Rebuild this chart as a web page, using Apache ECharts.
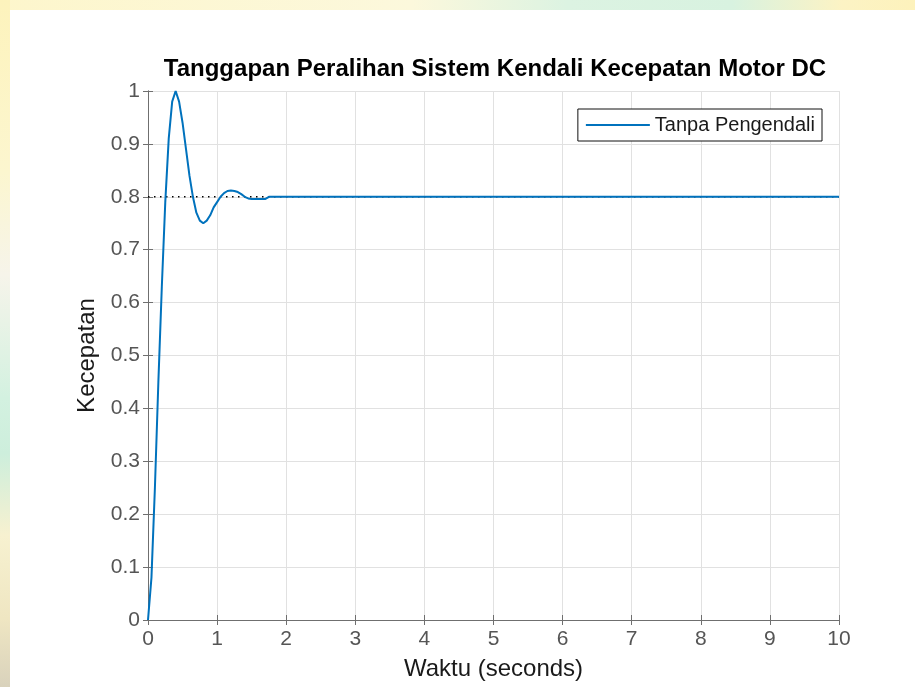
<!DOCTYPE html>
<html>
<head>
<meta charset="utf-8">
<script src="https://cdn.jsdelivr.net/npm/echarts@6/dist/echarts.min.js"></script>
<style>
  html, body { margin: 0; padding: 0; width: 915px; height: 687px; overflow: hidden; }
  body { background: #fdf7d2; position: relative; }
  #topStrip { position: absolute; left: 0; top: 0; width: 915px; height: 10px;
    background: linear-gradient(to right, #fdf6cc 0%, #fcf8dc 45%, #dcf3e2 62%, #d8f2e0 80%, #fcf3c4 92%, #fdf2bc 100%); }
  #leftStrip { position: absolute; left: 0; top: 0; width: 10px; height: 687px;
    background: linear-gradient(to bottom, #fdf3bc 0%, #fcf6cf 25%, #f6f4ea 40%, #d3f1e0 58%, #cdeedc 66%, #f7f1d0 78%, #efe6c2 90%, #d9d2bc 100%); }
  #panel { position: absolute; left: 10px; top: 10px; width: 905px; height: 677px; background: #ffffff; }
  #chart { position: absolute; left: 0; top: 0; width: 915px; height: 687px; }
</style>
</head>
<body>
<div id="topStrip"></div>
<div id="leftStrip"></div>
<div id="panel"></div>
<div id="chart"></div>
<script>
// Step response of the DC motor speed loop (no controller)
const timeSec = [0, 0.05, 0.1, 0.15, 0.2, 0.25, 0.3, 0.35, 0.4, 0.45, 0.5, 0.55, 0.6, 0.65,
  0.7, 0.75, 0.8, 0.85, 0.9, 0.95, 1.0, 1.05, 1.1, 1.15, 1.2, 1.25, 1.3, 1.35, 1.4,
  1.45, 1.5, 1.55, 1.6, 1.65, 1.7, 1.75, 10];
const speed = [0, 0.08, 0.25, 0.45, 0.63, 0.79, 0.91, 0.98, 1.0, 0.98, 0.94, 0.89, 0.84, 0.8,
  0.77, 0.755, 0.75, 0.755, 0.765, 0.78, 0.79, 0.8, 0.807, 0.811, 0.812, 0.811, 0.809, 0.805, 0.8,
  0.797, 0.796, 0.796, 0.796, 0.796, 0.796, 0.8, 0.8];
// Steady-state level drawn as a dotted reference
const finalTime = [0, 10];
const finalValue = [0.8, 0.8];

const seriesName = 'Tanpa Pengendali';
const titleText = 'Tanggapan Peralihan Sistem Kendali Kecepatan Motor DC';
const xName = 'Waktu (seconds)';
const yName = 'Kecepatan';
const xTicks = [0, 1, 2, 3, 4, 5, 6, 7, 8, 9, 10];
const yTicks = ['0', '0.1', '0.2', '0.3', '0.4', '0.5', '0.6', '0.7', '0.8', '0.9', '1'];

const FONT = 'Liberation Sans, Arial, Helvetica, sans-serif';
const AXIS_COLOR = '#6f6f6f';
const GRID_COLOR = '#e1e1e1';
const LINE_BLUE = '#0072bd';

const pairs = (xs, ys) => xs.map((x, i) => [x, ys[i]]);

const chart = echarts.init(document.getElementById('chart'), null, { renderer: 'canvas' });

const boxAxis = {
  axisLine: { show: true, lineStyle: { color: AXIS_COLOR, width: 1 } },
  axisTick: { show: true, inside: true, length: 5, lineStyle: { color: AXIS_COLOR } },
  axisLabel: { show: false },
  splitLine: { show: false }
};

chart.setOption({
  backgroundColor: 'transparent',
  animation: false,
  title: {
    text: titleText,
    left: 490,
    top: 52,
    textAlign: 'center',
    textStyle: { fontFamily: FONT, fontSize: 24, fontWeight: 'bold', color: '#000' }
  },
  legend: {
    data: [{ name: seriesName, icon: 'rect' }],
    right: 93,
    top: 109,
    itemWidth: 64,
    itemHeight: 2,
    padding: [6, 7, 6, 8],
    backgroundColor: '#fff',
    borderColor: '#111',
    borderWidth: 1,
    borderRadius: 0,
    textStyle: { fontFamily: FONT, fontSize: 20, color: '#1a1a1a' }
  },
  grid: { left: 148, right: 76, top: 91, bottom: 67, containLabel: false },
  xAxis: [{
    type: 'value', min: 0, max: 10, interval: 1,
    name: xName, nameLocation: 'middle', nameGap: 37,
    nameTextStyle: { fontFamily: FONT, fontSize: 24, color: '#1a1a1a' },
    axisLine: { show: true, onZero: false, lineStyle: { color: AXIS_COLOR, width: 1 } },
    axisTick: { show: true, inside: true, length: 5, lineStyle: { color: AXIS_COLOR } },
    axisLabel: {
      fontFamily: FONT, fontSize: 21, color: '#555555', margin: 9,
      formatter: v => String(xTicks[Math.round(v)])
    },
    splitLine: { show: true, lineStyle: { color: GRID_COLOR, width: 1 } }
  }, Object.assign({ type: 'value', min: 0, max: 10, interval: 1, position: 'top' }, boxAxis)],
  yAxis: [{
    type: 'value', min: 0, max: 1, interval: 0.1,
    name: yName, nameLocation: 'middle', nameGap: 49, nameRotate: 90,
    nameTextStyle: { fontFamily: FONT, fontSize: 24, color: '#1a1a1a' },
    axisLine: { show: true, onZero: false, lineStyle: { color: AXIS_COLOR, width: 1 } },
    axisTick: { show: true, inside: true, length: 5, lineStyle: { color: AXIS_COLOR } },
    axisLabel: {
      fontFamily: FONT, fontSize: 21, color: '#555555', margin: 8,
      formatter: v => yTicks[Math.round(v * 10)]
    },
    splitLine: { show: true, lineStyle: { color: GRID_COLOR, width: 1 } }
  }, Object.assign({ type: 'value', min: 0, max: 1, interval: 0.1, position: 'right' }, boxAxis)],
  series: [{
    name: 'steady',
    type: 'line',
    data: pairs(finalTime, finalValue),
    showSymbol: false,
    silent: true,
    z: 1,
    lineStyle: { color: '#000', width: 1.5, type: [1.5, 4.5] }
  }, {
    name: seriesName,
    type: 'line',
    data: pairs(timeSec, speed),
    showSymbol: false,
    z: 3,
    lineStyle: { color: LINE_BLUE, width: 2 },
    itemStyle: { color: LINE_BLUE }
  }]
});
</script>
</body>
</html>
